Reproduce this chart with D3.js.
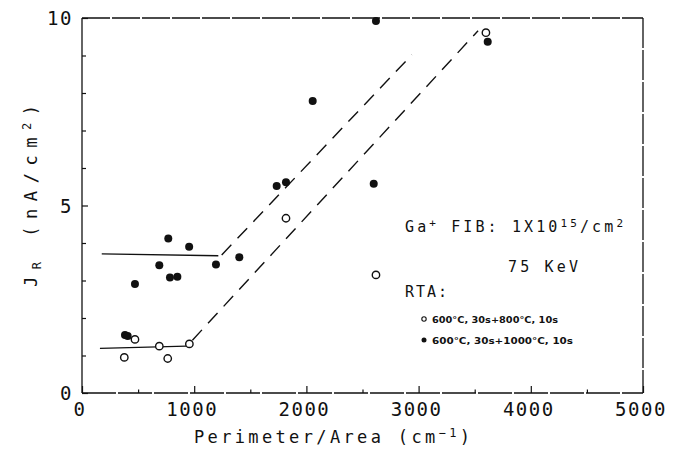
<!DOCTYPE html>
<html>
<head>
<meta charset="utf-8">
<script src="https://cdn.jsdelivr.net/npm/d3@7"></script>
<style>
  html, body { margin: 0; padding: 0; background: #fff; }
  svg { display: block; }
  .plot-text { font-family: "DejaVu Sans Mono", monospace; fill: #111; }
  .small-text { font-family: "DejaVu Sans", sans-serif; font-weight: bold; fill: #111; }
</style>
</head>
<body>
<svg id="chart" width="689" height="453"></svg>
<script>
// Reverse current density vs. perimeter/area ratio, two anneal conditions

// 600°C 30s + 1000°C 10s (filled markers)
const filledX = [2620, 3616, 2056, 1735, 1818, 2600, 769, 955, 689, 1194, 1402, 784, 850, 472, 383, 407];
const filledY = [9.92, 9.37, 7.79, 5.52, 5.62, 5.58, 4.12, 3.90, 3.41, 3.43, 3.62, 3.08, 3.10, 2.91, 1.55, 1.52];

// 600°C 30s + 800°C 10s (open markers)
const openX = [3600, 1818, 2620, 472, 689, 957, 377, 764];
const openY = [9.61, 4.66, 3.15, 1.43, 1.25, 1.31, 0.95, 0.92];

// fitted trend segments (x, y end points)
const upperFlat = [[176, 3.71], [1215, 3.66]];
const upperRise = [[1245, 3.68], [2940, 9.02]];
const lowerFlat = [[160, 1.19], [930, 1.25]];
const lowerRise = [[960, 1.33], [3530, 9.66]];

const xTicks = [0, 1000, 2000, 3000, 4000, 5000];
const xMinorTicks = [500, 1500, 2500, 3500, 4500];
const yTicks = [0, 5, 10];
const yMinorTicks = [1, 2, 3, 4, 6, 7, 8, 9];

const svg = d3.select("#chart");
const plotL = 82, plotR = 643, plotT = 18, plotB = 393;

const x = d3.scaleLinear().domain([0, 5000]).range([plotL, plotR]);
const y = d3.scaleLinear().domain([0, 10]).range([plotB, plotT]);

const ink = "#111";

// frame: solid left axis, slightly broken plotter lines elsewhere
const frame = svg.append("g").attr("fill", "none").attr("stroke", ink).attr("stroke-width", 1.3);
frame.append("line").attr("x1", plotL).attr("x2", plotL).attr("y1", plotT).attr("y2", plotB);
frame.append("line").attr("x1", plotL).attr("x2", plotR).attr("y1", plotT).attr("y2", plotT)
  .attr("stroke-dasharray", "28,2");
frame.append("line").attr("x1", plotR).attr("x2", plotR).attr("y1", plotT).attr("y2", plotB)
  .attr("stroke-dasharray", "30,2");
frame.append("line").attr("x1", plotL).attr("x2", plotR).attr("y1", plotB).attr("y2", plotB)
  .attr("stroke-dasharray", "34,2");

// inward ticks via d3 axes
const xAxis = svg.append("g").attr("transform", `translate(0,${plotB})`)
  .call(d3.axisTop(x).tickValues(xTicks).tickSize(7).tickFormat(""));
const xAxisMinor = svg.append("g").attr("transform", `translate(0,${plotB})`)
  .call(d3.axisTop(x).tickValues(xMinorTicks).tickSize(3.5).tickFormat(""));
const yAxis = svg.append("g").attr("transform", `translate(${plotL},0)`)
  .call(d3.axisRight(y).tickValues(yTicks).tickSize(6).tickFormat(""));
const yAxisMinor = svg.append("g").attr("transform", `translate(${plotL},0)`)
  .call(d3.axisRight(y).tickValues(yMinorTicks).tickSize(4).tickFormat(""));
[xAxis, xAxisMinor, yAxis, yAxisMinor].forEach(g => {
  g.select(".domain").remove();
  g.selectAll(".tick line").attr("stroke", ink).attr("stroke-width", 1.2);
});

// tick labels
svg.append("g").selectAll("text").data(xTicks).join("text")
  .attr("class", "plot-text")
  .attr("x", d => x(d) - 2)
  .attr("y", 416)
  .attr("text-anchor", "middle")
  .attr("font-size", 19)
  .attr("letter-spacing", 1.5)
  .text(d => d);

svg.append("g").selectAll("text").data(yTicks).join("text")
  .attr("class", "plot-text")
  .attr("x", 73)
  .attr("y", d => y(d) + 7)
  .attr("text-anchor", "end")
  .attr("font-size", 19)
  .attr("letter-spacing", 1.5)
  .text(d => d);

// axis titles
const xTitle = svg.append("text").attr("class", "plot-text")
  .attr("x", 194).attr("y", 443).attr("font-size", 17);
xTitle.append("tspan").text("Perimeter/Area (cm");
xTitle.append("tspan").attr("dy", -6).attr("font-size", 12).text("−1");
xTitle.append("tspan").attr("dy", 6).text(")");
xTitle.attr("textLength", 276).attr("lengthAdjust", "spacing");

const yTitle = svg.append("text").attr("class", "plot-text")
  .attr("transform", "translate(37,287) rotate(-90)")
  .attr("font-size", 17);
yTitle.append("tspan").text("J");
yTitle.append("tspan").attr("dy", 4).attr("font-size", 12).text("R");
yTitle.append("tspan").attr("dy", -4).text("  (nA/cm");
yTitle.append("tspan").attr("dy", -6).attr("font-size", 12).text("2");
yTitle.append("tspan").attr("dy", 6).text(")");
yTitle.attr("textLength", 182).attr("lengthAdjust", "spacing");

// trend lines
const line = d3.line().x(d => x(d[0])).y(d => y(d[1]));
const trends = svg.append("g").attr("fill", "none").attr("stroke", ink).attr("stroke-width", 1.4);
trends.append("path").attr("d", line(upperFlat));
trends.append("path").attr("d", line(lowerFlat));
trends.append("path").attr("d", line(upperRise)).attr("stroke-dasharray", "14,9");
trends.append("path").attr("d", line(lowerRise)).attr("stroke-dasharray", "14,9").attr("stroke-dashoffset", -4);

// markers
const filled = filledX.map((v, i) => [v, filledY[i]]);
const open = openX.map((v, i) => [v, openY[i]]);

svg.append("g").selectAll("circle").data(open).join("circle")
  .attr("cx", d => x(d[0])).attr("cy", d => y(d[1])).attr("r", 3.7)
  .attr("fill", "#fff").attr("stroke", ink).attr("stroke-width", 1.4);

svg.append("g").selectAll("circle").data(filled).join("circle")
  .attr("cx", d => x(d[0])).attr("cy", d => y(d[1])).attr("r", 4)
  .attr("fill", ink);

// annotation block
const ann = svg.append("g");
const t1 = ann.append("text").attr("class", "plot-text").attr("x", 405).attr("y", 232).attr("font-size", 15);
t1.append("tspan").text("Ga");
t1.append("tspan").attr("dy", -5).attr("font-size", 11).text("+");
t1.append("tspan").attr("dy", 5).text(" FIB:  1X10");
t1.append("tspan").attr("dy", -5).attr("font-size", 11).text("15");
t1.append("tspan").attr("dy", 5).text("/cm");
t1.append("tspan").attr("dy", -5).attr("font-size", 11).text("2");
t1.attr("textLength", 218).attr("lengthAdjust", "spacing");

ann.append("text").attr("class", "plot-text").attr("x", 508).attr("y", 272).attr("font-size", 15)
  .attr("textLength", 70).attr("lengthAdjust", "spacing").text("75 KeV");
ann.append("text").attr("class", "plot-text").attr("x", 405).attr("y", 297).attr("font-size", 15)
  .attr("textLength", 42).attr("lengthAdjust", "spacing").text("RTA:");

const legendRows = [
  { label: "600°C, 30s+800°C, 10s", open: true, cy: 319, len: 126 },
  { label: "600°C, 30s+1000°C, 10s", open: false, cy: 340, len: 141 }
];
legendRows.forEach(r => {
  ann.append("circle").attr("cx", 424).attr("cy", r.cy).attr("r", r.open ? 2.2 : 2.5)
    .attr("fill", r.open ? "#fff" : ink).attr("stroke", ink).attr("stroke-width", r.open ? 1.1 : 0);
  ann.append("text").attr("class", "small-text").attr("x", 432).attr("y", r.cy + 3.5)
    .attr("font-size", 9).attr("textLength", r.len).attr("lengthAdjust", "spacingAndGlyphs").text(r.label);
});
</script>
</body>
</html>
